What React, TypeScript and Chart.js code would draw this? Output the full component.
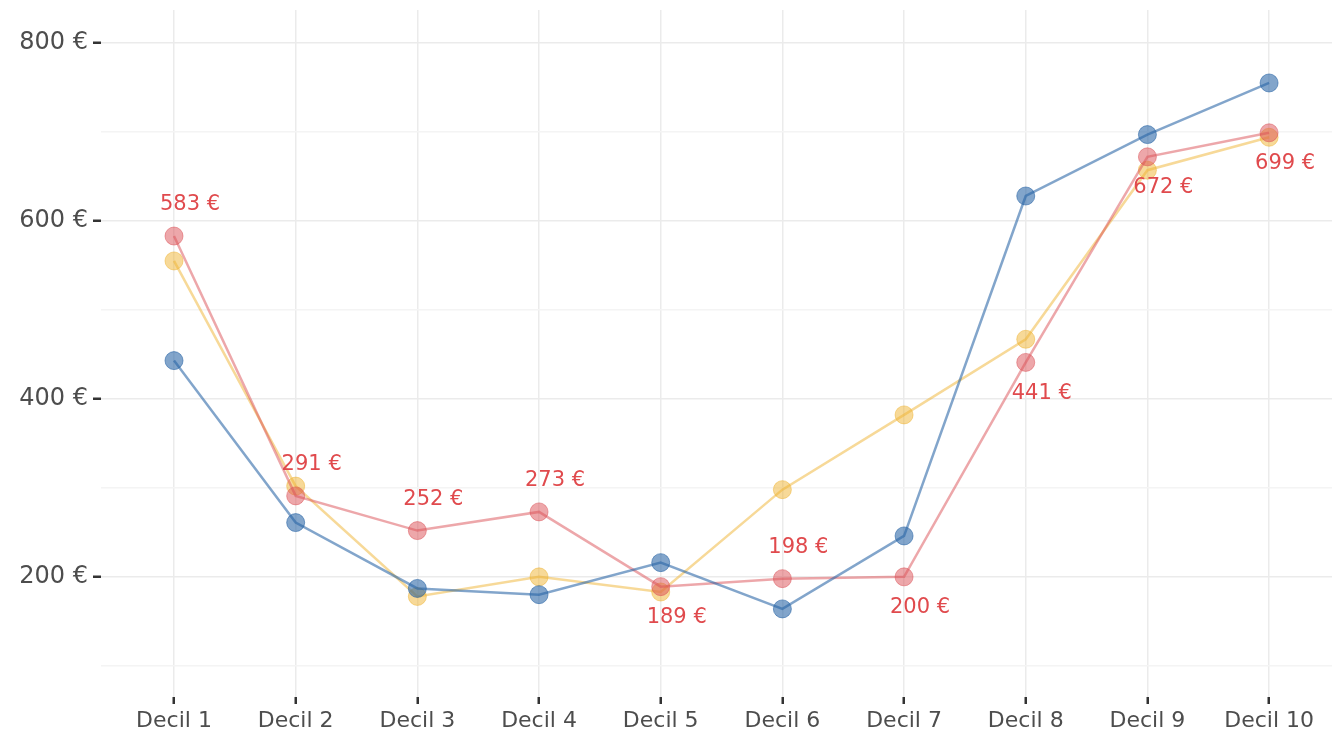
import React, { useEffect, useRef } from "react";
import { Chart, registerables } from "chart.js";

Chart.register(...registerables);

const categories = ["Decil 1", "Decil 2", "Decil 3", "Decil 4", "Decil 5", "Decil 6", "Decil 7", "Decil 8", "Decil 9", "Decil 10"];
const blueValues = [443, 261, 187, 180, 216, 164, 246, 628, 697, 755];
const redValues = [583, 291, 252, 273, 189, 198, 200, 441, 672, 699];
const yellowValues = [555, 302, 178, 200, 183, 298, 382, 467, 657, 694];
const redLabelSide = ["above", "above", "above", "above", "below", "above", "below", "below", "below", "below"];
const yTicks = [100, 200, 300, 400, 500, 600, 700, 800];
const yLabelTicks = [200, 400, 600, 800];

const FONT = "'DejaVu Sans', sans-serif";

const toPoints = (arr: number[]) => arr.map((v, i) => ({ x: i + 1, y: v }));

const labelPlugin = {
  id: "redLabels",
  afterDatasetsDraw(chart: any) {
    const ctx = chart.ctx;
    const xs = chart.scales.x;
    const ys = chart.scales.y;
    ctx.save();
    ctx.font = `21px ${FONT}`;
    ctx.fillStyle = "#e04a4d";
    ctx.textAlign = "center";
    ctx.textBaseline = "middle";
    redValues.forEach((v, i) => {
      const px = xs.getPixelForValue(i + 1) + 16;
      const py = ys.getPixelForValue(v) + (redLabelSide[i] === "above" ? -31 : 31);
      ctx.fillText(`${v} €`, px, py);
    });
    ctx.restore();
  },
};

const zeroPad = (scale: any) => {
  scale.paddingLeft = 0;
  scale.paddingRight = 0;
  scale.paddingTop = 0;
  scale.paddingBottom = 0;
};

export default function App() {
  const ref = useRef<HTMLCanvasElement | null>(null);
  useEffect(() => {
    if (!ref.current) return;
    const mk = (data: number[], rgb: string, a: number) => ({
      data: toPoints(data),
      borderColor: `rgba(${rgb},${a})`,
      backgroundColor: `rgba(${rgb},${a})`,
      pointBackgroundColor: `rgba(${rgb},${a})`,
      pointBorderColor: `rgba(${rgb},${a})`,
      pointBorderWidth: 1,
      pointRadius: 9,
      borderWidth: 2.5,
      tension: 0,
    });
    const chart = new Chart(ref.current, {
      type: "line",
      data: {
        datasets: [
          mk(blueValues, "40,100,165", 0.58),
          mk(redValues, "220,80,85", 0.5),
          mk(yellowValues, "240,180,50", 0.5),
        ],
      },
      options: {
        animation: false,
        responsive: false,
        maintainAspectRatio: false,
        layout: { autoPadding: false, padding: { top: 10, left: 0, right: 0, bottom: 0 } },
        plugins: { legend: { display: false }, tooltip: { enabled: false }, title: { display: false } },
        scales: {
          x: {
            type: "linear",
            min: 0.4,
            max: 10.517,
            afterBuildTicks: (scale: any) => {
              scale.ticks = categories.map((_, i) => ({ value: i + 1 }));
            },
            afterFit: (scale: any) => {
              scale.height = 34;
              zeroPad(scale);
            },
            border: { display: false },
            grid: {
              color: "#ebebeb",
              lineWidth: 1.5,
              tickColor: "#333333",
              tickLength: 7,
              tickWidth: 2.5,
            },
            ticks: {
              autoSkip: false,
              maxRotation: 0,
              padding: 4,
              color: "#4d4d4d",
              font: { family: FONT, size: 22 },
              callback: (v: any) => categories[Number(v) - 1] ?? "",
            },
          },
          y: {
            type: "linear",
            min: 65,
            max: 837,
            afterBuildTicks: (scale: any) => {
              scale.ticks = yTicks.map((v) => ({ value: v }));
            },
            afterFit: (scale: any) => {
              scale.width = 101;
              zeroPad(scale);
            },
            border: { display: false },
            grid: {
              color: (c: any) => (yLabelTicks.includes(c.tick?.value) ? "#ebebeb" : "#f4f4f4"),
              lineWidth: 1.5,
              tickColor: (c: any) => (yLabelTicks.includes(c.tick?.value) ? "#333333" : "rgba(0,0,0,0)"),
              tickLength: 8,
              tickWidth: 2.5,
            },
            ticks: {
              padding: 5,
              color: "#4d4d4d",
              font: { family: FONT, size: 24 },
              callback: (v: any) => (yLabelTicks.includes(Number(v)) ? `${v} €` : ""),
            },
          },
        },
      },
      plugins: [labelPlugin],
    });
    return () => chart.destroy();
  }, []);
  return (
    <div style={{ position: "fixed", left: 0, top: 0, width: 1332, height: 731, background: "#fff" }}>
      <canvas ref={ref} width={1332} height={731} style={{ width: 1332, height: 731, display: "block" }} />
    </div>
  );
}
